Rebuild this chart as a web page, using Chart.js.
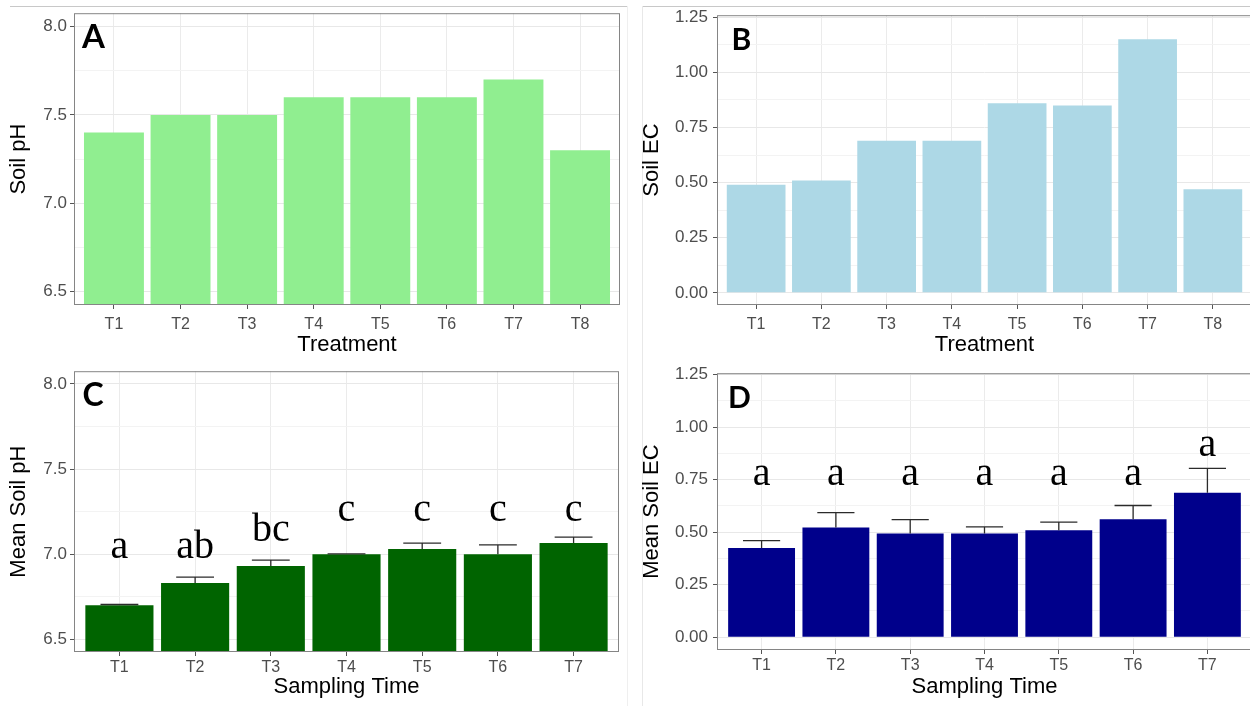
<!DOCTYPE html>
<html>
<head>
<meta charset="utf-8">
<script src="https://cdn.jsdelivr.net/npm/chart.js@4.4.1/dist/chart.umd.min.js"></script>
<style>
  html, body { margin: 0; padding: 0; background: #fff; width: 1250px; height: 706px; overflow: hidden; }
  .panel { position: absolute; }
  .linea { position: absolute; }
</style>
</head>
<body>
<div class="linea" style="left:10px;top:6px;width:617px;height:1px;background:#c8c8c8"></div>
<div class="linea" style="left:642px;top:6px;width:608px;height:1px;background:#c8c8c8"></div>
<div class="linea" style="left:627px;top:6px;width:1px;height:700px;background:#efefef"></div>
<div class="linea" style="left:642px;top:6px;width:1px;height:700px;background:#e8e8e8"></div>

<div class="panel" style="left:0;top:0;width:625px;height:358px"><canvas id="graficaA"></canvas></div>
<div class="panel" style="left:625px;top:0;width:630px;height:358px"><canvas id="graficaB"></canvas></div>
<div class="panel" style="left:0;top:358px;width:625px;height:348px"><canvas id="graficaC"></canvas></div>
<div class="panel" style="left:625px;top:358px;width:630px;height:348px"><canvas id="graficaD"></canvas></div>

<script>
// Categorías
const tratamientos = ["T1", "T2", "T3", "T4", "T5", "T6", "T7", "T8"];
const muestreos = ["T1", "T2", "T3", "T4", "T5", "T6", "T7"];

// A: pH por tratamiento
const phSuelo = [7.4, 7.5, 7.5, 7.6, 7.6, 7.6, 7.7, 7.3];
// B: CE por tratamiento
const ceSuelo = [0.49, 0.51, 0.69, 0.69, 0.86, 0.85, 1.15, 0.47];

// C: pH medio por muestreo (+ error estándar y letras)
const phMedio = [6.70, 6.83, 6.93, 7.00, 7.03, 7.00, 7.065];
const phError = [0.004, 0.035, 0.035, 0.002, 0.035, 0.055, 0.035];
const phLetras = ["a", "ab", "bc", "c", "c", "c", "c"];
const phLetrasY = [6.975, 6.975, 7.08, 7.195, 7.195, 7.195, 7.195];

// D: CE media por muestreo (+ error estándar y letras)
const ceMedia = [0.425, 0.522, 0.494, 0.494, 0.509, 0.561, 0.688];
const ceError = [0.035, 0.071, 0.066, 0.031, 0.039, 0.066, 0.116];
const ceLetras = ["a", "a", "a", "a", "a", "a", "a"];
const ceLetrasY = [0.723, 0.723, 0.723, 0.723, 0.723, 0.723, 0.862];

// Marcas del eje Y
const phTicks = [6.5, 7.0, 7.5, 8.0];
const phMenores = [6.75, 7.25, 7.75];
const ceTicks = [0, 0.25, 0.5, 0.75, 1.0, 1.25];
const ceMenores = [0.125, 0.375, 0.625, 0.875, 1.125];

const SANS = "'Liberation Sans', Arial, sans-serif";

// Barras de error, letras, marco y etiqueta del panel
function adornos(cfg) {
  return {
    id: "adornos",
    afterDatasetsDraw(chart) {
      const { ctx, chartArea: a, scales: { x, y } } = chart;
      ctx.save();

      if (cfg.errores) {
        const medio = (x.getPixelForValue(2) - x.getPixelForValue(1)) * 0.25;
        ctx.strokeStyle = "#2b2b2b";
        ctx.lineWidth = 1.3;
        cfg.valores.forEach((v, i) => {
          const cx = x.getPixelForValue(i + 1);
          const y0 = y.getPixelForValue(v);
          const y1 = y.getPixelForValue(v + cfg.errores[i]);
          ctx.beginPath();
          ctx.moveTo(cx, y0);
          ctx.lineTo(cx, y1);
          ctx.moveTo(cx - medio, y1);
          ctx.lineTo(cx + medio, y1);
          ctx.stroke();
        });
      }

      if (cfg.letras) {
        ctx.fillStyle = "#000";
        ctx.font = "40px 'Liberation Serif', 'Times New Roman', serif";
        ctx.textAlign = "center";
        ctx.textBaseline = "alphabetic";
        cfg.letras.forEach((t, i) => {
          ctx.fillText(t, x.getPixelForValue(i + 1), y.getPixelForValue(cfg.letrasY[i]));
        });
      }

      // marco del panel (theme_bw)
      ctx.strokeStyle = "#858585";
      ctx.lineWidth = 1;
      ctx.strokeRect(a.left + 0.5, a.top + 0.5, a.width - 1, a.height - 1);

      ctx.fillStyle = "#000";
      ctx.font = `bold ${cfg.tag.size}px Lato, 'Liberation Sans', sans-serif`;
      ctx.textAlign = "left";
      ctx.textBaseline = "alphabetic";
      ctx.fillText(cfg.tag.text, a.left + cfg.tag.dx, a.top + 34.5);

      ctx.restore();
    }
  };
}

function crearPanel(id, cfg) {
  const n = cfg.etiquetas.length;
  const puntos = cfg.valores.map((v, i) => ({ x: i + 1, y: v }));
  const yTicks = [...cfg.mayores, ...cfg.menores].sort((p, q) => p - q);
  const esMayor = v => cfg.mayores.includes(v);

  return new Chart(document.getElementById(id), {
    type: "bar",
    data: {
      datasets: [{
        data: puntos,
        backgroundColor: cfg.color,
        borderWidth: 0,
        categoryPercentage: 0.9,
        barPercentage: 1,
        clip: 0
      }]
    },
    options: {
      responsive: true,
      maintainAspectRatio: false,
      animation: false,
      layout: { padding: cfg.padding },
      plugins: { legend: { display: false }, tooltip: { enabled: false } },
      scales: {
        x: {
          type: "linear",
          offset: false,
          min: 0.4,
          max: n + 0.6,
          afterBuildTicks: s => { s.ticks = cfg.etiquetas.map((_, i) => ({ value: i + 1 })); },
          afterFit: s => { s.height = cfg.altoX; },
          ticks: {
            callback: v => cfg.etiquetas[v - 1],
            color: "#4d4d4d",
            font: { family: SANS, size: 16 },
            padding: cfg.padX,
            maxRotation: 0,
            autoSkip: false
          },
          grid: { offset: false, color: "#ebebeb", lineWidth: 1, tickLength: 4, tickColor: "#555", tickWidth: 1 },
          border: { display: false },
          title: {
            display: true,
            text: cfg.tituloX,
            color: "#000",
            font: { family: SANS, size: 22 },
            padding: { top: 0, bottom: cfg.padTituloX }
          }
        },
        y: {
          type: "linear",
          min: cfg.min,
          max: cfg.max,
          afterBuildTicks: s => { s.ticks = yTicks.map(v => ({ value: v })); },
          afterFit: s => { s.width = cfg.anchoY; },
          ticks: {
            callback: v => esMayor(v) ? v.toFixed(cfg.decimales) : "",
            color: "#4d4d4d",
            font: { family: SANS, size: 17 },
            padding: cfg.padY,
            autoSkip: false
          },
          grid: {
            color: c => esMayor(c.tick.value) ? "#e8e8e8" : "#f3f3f3",
            lineWidth: 1,
            tickLength: 4,
            tickWidth: 1,
            tickColor: c => esMayor(c.tick.value) ? "#555" : "rgba(0,0,0,0)"
          },
          border: { display: false },
          title: {
            display: true,
            text: cfg.tituloY,
            color: "#000",
            font: { family: SANS, size: 22 },
            padding: { top: cfg.padTituloY, bottom: 0 }
          }
        }
      }
    },
    plugins: [adornos(cfg)]
  });
}

crearPanel("graficaA", {
  etiquetas: tratamientos, valores: phSuelo, color: "#90EE90",
  min: 6.425, max: 8.075, mayores: phTicks, menores: phMenores, decimales: 1,
  tituloX: "Treatment", tituloY: "Soil pH",
  padding: { top: 13, right: 5, left: 0, bottom: 0 },
  anchoY: 74, altoX: 53, padX: 6, padY: 3, padTituloX: 0, padTituloY: 5.5,
  tag: { text: "A", size: 33, dx: 8 }
});

crearPanel("graficaB", {
  etiquetas: tratamientos, valores: ceSuelo, color: "#ADD8E6",
  min: -0.055, max: 1.259, mayores: ceTicks, menores: ceMenores, decimales: 2,
  tituloX: "Treatment", tituloY: "Soil EC",
  padding: { top: 13, right: 3, left: 0, bottom: 0 },
  anchoY: 92, altoX: 53, padX: 6, padY: 5, padTituloX: 0, padTituloY: 14,
  tag: { text: "B", size: 30, dx: 14.5 }
});

crearPanel("graficaC", {
  etiquetas: muestreos, valores: phMedio, errores: phError, letras: phLetras, letrasY: phLetrasY,
  color: "#006400",
  min: 6.425, max: 8.075, mayores: phTicks, menores: phMenores, decimales: 1,
  tituloX: "Sampling Time", tituloY: "Mean Soil pH",
  padding: { top: 3, right: 6, left: 0, bottom: 0 },
  anchoY: 74, altoX: 54, padX: 2, padY: 3, padTituloX: 6, padTituloY: 5.5,
  tag: { text: "C", size: 32, dx: 8.5 }
});

crearPanel("graficaD", {
  etiquetas: muestreos, valores: ceMedia, errores: ceError, letras: ceLetras, letrasY: ceLetrasY,
  color: "#00008B",
  min: -0.061, max: 1.257, mayores: ceTicks, menores: ceMenores, decimales: 2,
  tituloX: "Sampling Time", tituloY: "Mean Soil EC",
  padding: { top: 3.5, right: 3, left: 0, bottom: 0 },
  anchoY: 92, altoX: 56, padX: 2, padY: 5, padTituloX: 6, padTituloY: 14,
  tag: { text: "D", size: 30, dx: 11 }
});
</script>
</body>
</html>
